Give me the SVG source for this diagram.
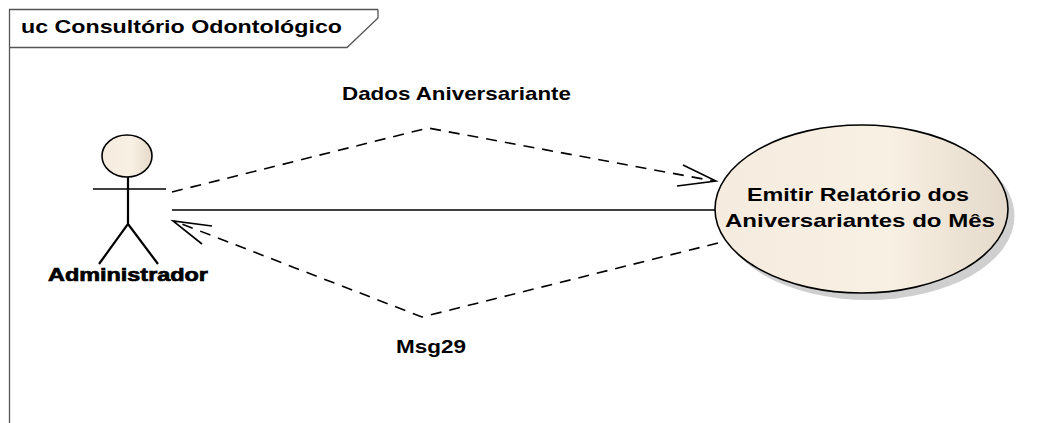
<svg xmlns="http://www.w3.org/2000/svg" width="1048" height="423" viewBox="0 0 1048 423">
<style>
text{font-family:"Liberation Sans",Arial,sans-serif;font-weight:bold;fill:#000;font-size:19px}
.l{fill:none;stroke:#000;stroke-width:1.6}
.d{stroke-dasharray:11 8}
.t{stroke-width:2.200}
.f{fill:none;stroke:#555;stroke-width:1.300}
</style>
<defs>
<linearGradient id="g" x1="0" x2="1" y1="0" y2="0"><stop offset="0" stop-color="#f5ecdf"/><stop offset="0.6" stop-color="#f8f0e3"/><stop offset="1" stop-color="#e4d9ca"/></linearGradient>
</defs>
<rect width="1048" height="423" fill="#fff"/>
<g id="frame">
<path class="f" d="M9.500 423V9.500H378M9.500 47.500H347L378 18V9.500"/>
<text x="21" y="33" textLength="321" lengthAdjust="spacingAndGlyphs">uc Consultório Odontológico</text>
</g>
<g id="connectors">
<path class="l d" d="M172 192L428 128L714 181"/>
<path class="l" d="M683 165L716 181L677 186"/>
<path class="l" d="M172 210H715"/>
<path class="l d" d="M718 243L422 317L174 221"/>
<path class="l" d="M212 226L173 221L202 244"/>
<text x="342" y="100" textLength="229" lengthAdjust="spacingAndGlyphs">Dados Aniversariante</text>
<text x="396" y="353" textLength="70" lengthAdjust="spacingAndGlyphs">Msg29</text>
</g>
<g id="actor-administrador">
<ellipse cx="127" cy="156" rx="25" ry="21" fill="url(#g)" stroke="#000" stroke-width="1.600"/>
<path class="l" d="M93 189H166"/>
<path class="l t" d="M128 177V224L99 264M128 224L158 264"/>
<text x="48" y="281" stroke="#000" stroke-width=".7" textLength="160" lengthAdjust="spacingAndGlyphs">Administrador</text>
</g>
<g id="usecase-emitir">
<ellipse cx="868" cy="216" rx="146.500" ry="84" fill="#bbb" opacity=".7"/>
<ellipse cx="861.500" cy="209" rx="146.500" ry="84" fill="url(#g)" stroke="#000" stroke-width="1.600"/>
<text x="747" y="201" textLength="222" lengthAdjust="spacingAndGlyphs">Emitir Relatório dos</text>
<text x="725" y="227" textLength="270" lengthAdjust="spacingAndGlyphs">Aniversariantes do Mês</text>
</g>
</svg>
